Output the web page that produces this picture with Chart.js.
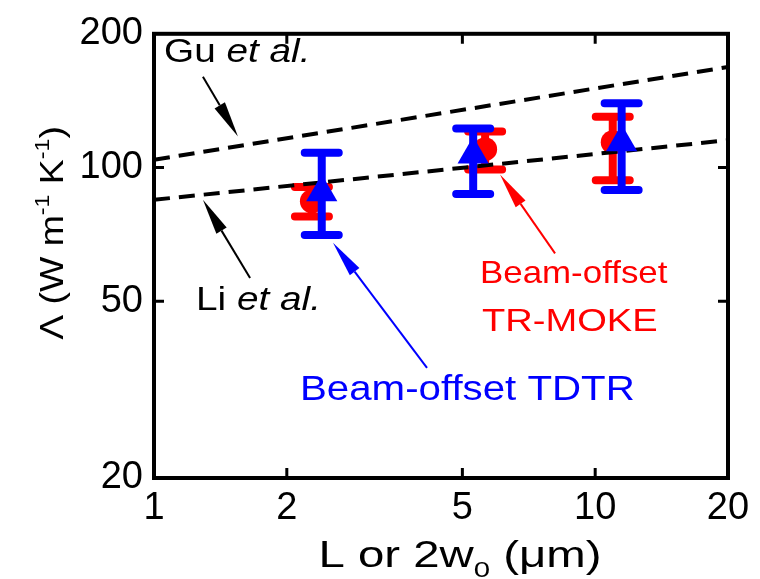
<!DOCTYPE html>
<html><head><meta charset="utf-8">
<script src="https://cdn.jsdelivr.net/npm/chart.js@4/dist/chart.umd.min.js"></script>
<style>html,body{margin:0;padding:0;background:#fff}#wrap{width:760px;height:579px}</style>
</head><body><div id="wrap"><canvas id="c" width="760" height="579"></canvas></div>
<script>
// ---- data ----
const xTickValues = [1, 2, 5, 10, 20];
const yTickValues = [20, 50, 100, 200];
const tdtrX = [2.40, 5.29, 11.48];
const tdtrY = [88, 107, 114];
const tdtrLow = [70.5, 87.2, 89.0];
const tdtrHigh = [107.9, 122.4, 139.6];
const mokeX = [2.28, 5.63, 10.96];
const mokeY = [84, 110, 114];
const mokeLow = [77.6, 99.0, 93.6];
const mokeHigh = [90.4, 120.6, 130.1];
const guX = [1, 20];
const guY = [104.1, 168.4];
const liX = [1, 20];
const liY = [84.6, 115.2];
// annotation arrows: [tailX, tailY, tipX, tipY] in data units
const arrowGu = [1.291, 160.1, 1.550, 117.5];
const arrowLi = [1.651, 56.4, 1.291, 84.6];
const arrowMoke = [8.11, 64.1, 6.085, 96.5];
const arrowTdtr = [4.157, 35.4, 2.545, 67.7];

const FAM = "'Liberation Sans', Arial, Helvetica, sans-serif";

function pts(xs, ys) { return xs.map((x, i) => ({ x: x, y: ys[i] })); }

function drawRuns(ctx, runs, x, y, align, size, color, stretch) {
  ctx.save();
  ctx.fillStyle = color;
  ctx.textBaseline = 'alphabetic';
  ctx.textAlign = 'left';
  const fontFor = r => {
    const s = (r.sup || r.sub) ? size * 0.62 : size;
    return (r.it ? 'italic ' : '') + s + 'px ' + FAM;
  };
  let total = 0;
  runs.forEach(r => { ctx.font = fontFor(r); total += ctx.measureText(r.t).width; });
  ctx.translate(x, y);
  ctx.scale(stretch, 1);
  let cx = align === 'center' ? -total / 2 : (align === 'right' ? -total : 0);
  runs.forEach(r => {
    ctx.font = fontFor(r);
    const dy = r.sup ? -size * 0.42 : (r.sub ? size * 0.26 : 0);
    ctx.fillText(r.t, cx, dy);
    cx += ctx.measureText(r.t).width;
  });
  ctx.restore();
}

function drawArrow(ctx, xs, ys, a, color) {
  const x0 = xs.getPixelForValue(a[0]), y0 = ys.getPixelForValue(a[1]);
  const x1 = xs.getPixelForValue(a[2]), y1 = ys.getPixelForValue(a[3]);
  const ang = Math.atan2(y1 - y0, x1 - x0);
  const L = 36, W = 6;
  const bx = x1 - L * Math.cos(ang), by = y1 - L * Math.sin(ang);
  ctx.save();
  ctx.strokeStyle = color; ctx.fillStyle = color; ctx.lineWidth = 2;
  ctx.beginPath(); ctx.moveTo(x0, y0); ctx.lineTo(bx, by); ctx.stroke();
  ctx.beginPath();
  ctx.moveTo(x1, y1);
  ctx.lineTo(bx + W * Math.sin(ang), by - W * Math.cos(ang));
  ctx.lineTo(bx - W * Math.sin(ang), by + W * Math.cos(ang));
  ctx.closePath(); ctx.fill();
  ctx.restore();
}

const errPlugin = {
  id: 'errbars',
  afterDatasetDraw(chart, args) {
    const ds = chart.data.datasets[args.index];
    if (!ds.errLow) return;
    const ctx = chart.ctx, xs = chart.scales.x, ys = chart.scales.y;
    ctx.save();
    ctx.strokeStyle = ds.errColor; ctx.lineWidth = ds.errWidth; ctx.lineCap = 'round';
    ds.data.forEach((p, i) => {
      const px = xs.getPixelForValue(p.x);
      const lo = ys.getPixelForValue(ds.errLow[i]);
      const hi = ys.getPixelForValue(ds.errHigh[i]);
      const c = ds.capHalf;
      ctx.beginPath();
      ctx.moveTo(px, lo); ctx.lineTo(px, hi);
      ctx.moveTo(px - c, lo); ctx.lineTo(px + c, lo);
      ctx.moveTo(px - c, hi); ctx.lineTo(px + c, hi);
      ctx.stroke();
    });
    ctx.restore();
  }
};

const framePlugin = {
  id: 'frame',
  afterDraw(chart) {
    const ctx = chart.ctx, a = chart.chartArea, xs = chart.scales.x, ys = chart.scales.y;
    ctx.save();
    ctx.strokeStyle = '#000';
    ctx.lineWidth = 3;
    const T = 10;
    xTickValues.forEach(v => {
      if (v === xs.min || v === xs.max) return;
      const p = xs.getPixelForValue(v);
      ctx.beginPath();
      ctx.moveTo(p, a.bottom); ctx.lineTo(p, a.bottom - T);
      ctx.moveTo(p, a.top); ctx.lineTo(p, a.top + T);
      ctx.stroke();
    });
    yTickValues.forEach(v => {
      if (v === ys.min || v === ys.max) return;
      const p = ys.getPixelForValue(v);
      ctx.beginPath();
      ctx.moveTo(a.left, p); ctx.lineTo(a.left + T, p);
      ctx.moveTo(a.right, p); ctx.lineTo(a.right - T, p);
      ctx.stroke();
    });
    ctx.lineWidth = 4;
    ctx.strokeRect(a.left, a.top, a.right - a.left, a.bottom - a.top);
    ctx.restore();

    drawArrow(ctx, xs, ys, arrowGu, '#000');
    drawArrow(ctx, xs, ys, arrowLi, '#000');
    drawArrow(ctx, xs, ys, arrowMoke, '#ff0000');
    drawArrow(ctx, xs, ys, arrowTdtr, '#0000ff');

    drawRuns(ctx, [{t: 'Gu '}, {t: 'et al.', it: true}], 164, 62, 'left', 34, '#000', 1.14);
    drawRuns(ctx, [{t: 'Li '}, {t: 'et al.', it: true}], 196, 310, 'left', 34, '#000', 1.14);
    drawRuns(ctx, [{t: 'Beam-offset'}], 480, 283, 'left', 32, '#ff0000', 1.09);
    drawRuns(ctx, [{t: 'TR-MOKE'}], 482, 331, 'left', 32, '#ff0000', 1.19);
    drawRuns(ctx, [{t: 'Beam-offset TDTR'}], 300, 400, 'left', 35, '#0000ff', 1.15);

    drawRuns(ctx, [{t: 'L or 2w'}, {t: '0', sub: true}, {t: ' (\u03bcm)'}], 460, 567, 'center', 37, '#000', 1.28);
    ctx.save();
    ctx.translate(63, 233);
    ctx.rotate(-Math.PI / 2);
    drawRuns(ctx, [{t: '\u039b (W m'}, {t: '-1', sup: true}, {t: ' K'}, {t: '-1', sup: true}, {t: ')'}], 0, 0, 'center', 34, '#000', 1.1);
    ctx.restore();
  }
};

const tickFont = { family: FAM, size: 38 };

new Chart(document.getElementById('c'), {
  type: 'scatter',
  data: {
    datasets: [
      { label: 'Beam-offset TDTR', data: pts(tdtrX, tdtrY), pointStyle: 'triangle', pointRadius: 18,
        backgroundColor: '#0000ff', borderWidth: 0, order: 1,
        errLow: tdtrLow, errHigh: tdtrHigh, errColor: '#0000ff', errWidth: 8, capHalf: 17 },
      { label: 'Gu et al.', data: pts(guX, guY), showLine: true, borderColor: '#000', borderWidth: 4,
        borderDash: [16, 9], pointRadius: 0, fill: false, order: 2 },
      { label: 'Li et al.', data: pts(liX, liY), showLine: true, borderColor: '#000', borderWidth: 4,
        borderDash: [16, 9], pointRadius: 0, fill: false, order: 2 },
      { label: 'Beam-offset TR-MOKE', data: pts(mokeX, mokeY), pointStyle: 'circle', pointRadius: 12,
        backgroundColor: '#ff0000', borderWidth: 0, order: 3,
        errLow: mokeLow, errHigh: mokeHigh, errColor: '#ff0000', errWidth: 8, capHalf: 17 }
    ]
  },
  options: {
    responsive: false, animation: false, devicePixelRatio: 1,
    layout: { padding: { left: 0, right: 32, top: 23, bottom: 0 } },
    plugins: { legend: { display: false }, tooltip: { enabled: false } },
    scales: {
      x: {
        type: 'logarithmic', min: 1, max: 20, position: 'bottom',
        afterBuildTicks: s => { s.ticks = xTickValues.map(v => ({ value: v })); },
        afterFit: s => { s.height = 101; },
        grid: { display: false, drawTicks: false }, border: { display: false },
        ticks: { font: tickFont, color: '#000', padding: 8, maxRotation: 0, autoSkip: false,
                 callback: v => String(v) }
      },
      y: {
        type: 'logarithmic', min: 20, max: 200, position: 'left',
        afterBuildTicks: s => { s.ticks = yTickValues.map(v => ({ value: v })); },
        afterFit: s => { s.width = 154; },
        grid: { display: false, drawTicks: false }, border: { display: false },
        ticks: { font: tickFont, color: '#000', padding: 11, autoSkip: false,
                 callback: v => String(v) }
      }
    }
  },
  plugins: [errPlugin, framePlugin]
});
</script>
</body></html>
